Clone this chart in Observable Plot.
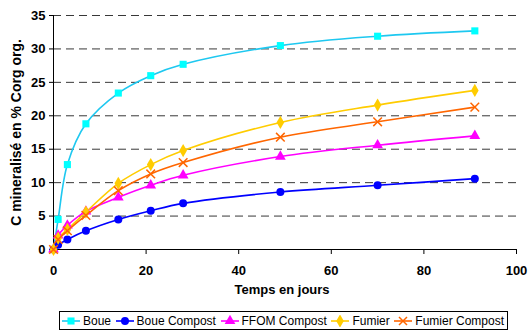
<!DOCTYPE html>
<html><head><meta charset="utf-8">
<script src="https://cdn.jsdelivr.net/npm/d3@7"></script>
<script src="https://cdn.jsdelivr.net/npm/@observablehq/plot@0.6"></script>
<style>
body{margin:0;background:#fff;font-family:"Liberation Sans",Arial,sans-serif;}
#wrap{position:relative;width:530px;height:331px;}
#legend{position:absolute;left:59px;top:311px;width:449px;height:19px;border:1px solid #000;box-sizing:border-box;display:flex;align-items:center;justify-content:space-between;padding:0 3px 0 2px;font-size:12px;color:#000;background:#fff;}
#legend .it{display:flex;align-items:center;white-space:nowrap;}
#legend svg{margin-right:3px;}
</style></head>
<body><div id="wrap"><div id="chart"></div><div id="legend"></div></div>
<script>
const days = [0, 1, 3, 7, 14, 21, 28, 49, 70, 91];
const seriesNames = ["Boue", "Boue Compost", "FFOM Compost", "Fumier", "Fumier Compost"];
const boue = [0, 4.5, 12.7, 18.8, 23.4, 26.0, 27.7, 30.5, 31.9, 32.7];
const boueCompost = [0, 0.7, 1.5, 2.8, 4.5, 5.8, 6.9, 8.6, 9.6, 10.6];
const ffomCompost = [0, 2.1, 3.6, 5.7, 7.8, 9.6, 11.1, 13.9, 15.6, 17.0];
const fumier = [0, 1.7, 3.0, 5.6, 9.9, 12.7, 14.8, 19.0, 21.6, 23.8];
const fumierCompost = [0, 1.5, 2.8, 5.1, 8.8, 11.3, 13.0, 16.8, 19.1, 21.3];
const yTicks = [0, 5, 10, 15, 20, 25, 30, 35];
const xTicks = [0, 20, 40, 60, 80, 100];
const xLabel = "Temps en jours";
const yLabel = "C mineralisé en % Corg org.";

const lineColors = ["#1ec8f0", "#0000ff", "#ff00ff", "#ffcc00", "#ff6600"];
const markColors = ["#00ffff", "#0000ff", "#ff00ff", "#ffcc00", "#ff6600"];
const symbols = ["square", "circle", "triangle", "diamond", "times"];

const allValues = [boue, boueCompost, ffomCompost, fumier, fumierCompost];
const data = [];
seriesNames.forEach((s, i) => days.forEach((d, j) => data.push({series: s, day: d, value: allValues[i][j]})));

const marks = [
  Plot.gridY(yTicks.filter(t => t > 0), {stroke: "#222", strokeOpacity: 0.9, strokeDasharray: "8,5"}),
  Plot.axisY({ticks: yTicks, tickSize: 4, tickPadding: 4, fontSize: 13, fontWeight: "bold", label: null}),
  Plot.axisX({ticks: xTicks, tickSize: 5, tickPadding: 11, fontSize: 13, fontWeight: "bold", label: null}),
  Plot.text([yLabel], {frameAnchor: "left", textAnchor: "middle", lineAnchor: "middle", rotate: -90, dx: -37, fontSize: 14, fontWeight: "bold"}),
  Plot.text([xLabel], {frameAnchor: "bottom", dx: -3, dy: 44, fontSize: 13, fontWeight: "bold"}),
  Plot.ruleX([0], {stroke: "#000"}),
  Plot.ruleY([0], {stroke: "#000"}),
];
seriesNames.forEach((s, i) => {
  const d = data.filter(r => r.series === s);
  marks.push(Plot.line(d, {x: "day", y: "value", stroke: lineColors[i], strokeWidth: 1.6, curve: "catmull-rom"}));
});
seriesNames.forEach((s, i) => {
  const d = data.filter(r => r.series === s);
  if (symbols[i] === "times") {
    marks.push(Plot.dot(d, {x: "day", y: "value", symbol: "times", r: 4, stroke: markColors[i], strokeWidth: 1.5}));
  } else {
    marks.push(Plot.dot(d, {x: "day", y: "value", symbol: symbols[i], r: 4, fill: markColors[i], stroke: "none"}));
  }
});

const chart = Plot.plot({
  width: 530, height: 305,
  marginLeft: 53, marginRight: 14, marginTop: 15, marginBottom: 56,
  style: {fontFamily: "'Liberation Sans', Arial, sans-serif", fontWeight: "bold", fontSize: "13px", color: "#000", background: "#fff"},
  x: {domain: [0, 100]},
  y: {domain: [0, 35]},
  marks
});
document.getElementById("chart").appendChild(chart);

const legend = document.getElementById("legend");
const symGen = {square: d3.symbolSquare, circle: d3.symbolCircle, triangle: d3.symbolTriangle, diamond: d3.symbolDiamond};
seriesNames.forEach((s, i) => {
  const it = document.createElement("div");
  it.className = "it";
  let m;
  if (symbols[i] === "times") {
    m = `<path d="M5,2L13,10M13,2L5,10" stroke="${markColors[i]}" stroke-width="1.5"/>`;
  } else {
    m = `<path transform="translate(9,6)" d="${d3.symbol(symGen[symbols[i]], 50)()}" fill="${markColors[i]}"/>`;
  }
  it.innerHTML = `<svg width="18" height="12"><line x1="0" x2="18" y1="6" y2="6" stroke="${lineColors[i]}" stroke-width="1.6"/>${m}</svg><span>${s}</span>`;
  legend.appendChild(it);
});
</script></body></html>
